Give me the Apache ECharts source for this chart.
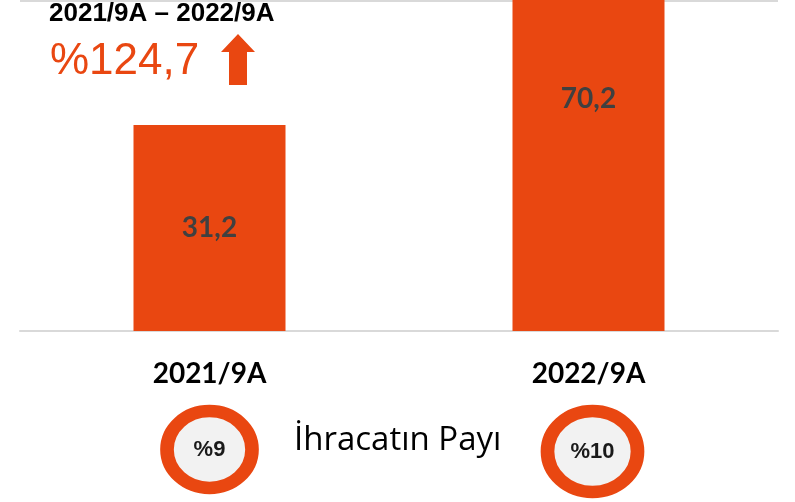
<!DOCTYPE html>
<html>
<head>
<meta charset="utf-8">
<script src="https://cdn.jsdelivr.net/npm/echarts@6/dist/echarts.min.js"></script>
<style>
  html, body { margin: 0; padding: 0; background: #fff; }
  #main { width: 795px; height: 502px; }
</style>
</head>
<body>
<div id="main"></div>
<script>
const categories = ['2021/9A', '2022/9A'];
const values = [31.2, 70.2];
const shares = [9, 10];
const growth = '%124,7';
const period = '2021/9A \u2013 2022/9A';

const ORANGE = '#E94711';
const fmt = v => String(v).replace('.', ',');
// the two rings are not quite the same size in the original (border drawn on the path)
const ringSize = [[85, 77], [90, 81]];
const ringOffset = [[0, 0], [4, 2]];

let myChart = echarts.init(document.getElementById('main'));
let option = {
    animation: false,
    grid: [
        { left: 20, right: 17, top: 1, bottom: 171 },
        { left: 20, right: 17, top: 400, height: 99 }
    ],
    xAxis: [{
        type: 'category',
        gridIndex: 0,
        data: categories,
        axisLine: { lineStyle: { color: '#d9d9d9', width: 2 } },
        axisTick: { show: false },
        axisLabel: {
            margin: 29,
            color: '#000',
            fontSize: 28,
            fontWeight: 'bold',
            fontFamily: 'Lato'
        }
    }, {
        type: 'category',
        gridIndex: 1,
        data: categories,
        show: false
    }],
    yAxis: [{
        type: 'value',
        gridIndex: 0,
        min: 0,
        max: 50,
        interval: 50,
        axisLabel: { show: false },
        axisLine: { show: false },
        splitLine: { lineStyle: { color: '#d9d9d9', width: 2 } }
    }, {
        type: 'value',
        gridIndex: 1,
        min: 0,
        max: 1,
        show: false
    }],
    series: [{
        type: 'bar',
        data: values,
        barWidth: 152,
        clip: false,
        itemStyle: { color: ORANGE },
        label: {
            show: true,
            position: 'inside',
            formatter: p => fmt(p.value),
            color: '#404040',
            fontSize: 28,
            fontWeight: 'bold',
            fontFamily: 'Lato'
        }
    }, {
        // ihracatin payi halkalari
        type: 'scatter',
        xAxisIndex: 1,
        yAxisIndex: 1,
        data: shares.map((s, i) => ({
            value: [i, 0.5, s],
            symbolSize: ringSize[i],
            symbolOffset: ringOffset[i]
        })),
        symbol: 'circle',
        itemStyle: { color: '#f2f2f2', borderColor: ORANGE, borderWidth: 13, opacity: 1 },
        label: {
            show: true,
            position: 'inside',
            formatter: p => '%' + p.value[2],
            color: '#1a1a1a',
            fontSize: 22,
            fontWeight: 'bold',
            fontFamily: 'Liberation Sans'
        }
    }],
    graphic: [{
        type: 'text',
        left: 49,
        top: 1,
        style: { text: period, fill: '#000', font: 'bold 26px "Liberation Sans"' }
    }, {
        type: 'text',
        left: 50,
        top: 40,
        style: { text: growth, fill: ORANGE, font: '44px "Liberation Sans"' }
    }, {
        type: 'polygon',
        shape: { points: [[238, 34], [255, 52], [247, 52], [247, 85], [229, 85], [229, 52], [221, 52]] },
        style: { fill: ORANGE }
    }, {
        type: 'text',
        left: 294,
        top: 424,
        style: { text: '\u0130hracat\u0131n Pay\u0131', fill: '#000', font: '33px "Open Sans"' }
    }]
};
myChart.setOption(option);
</script>
</body>
</html>
